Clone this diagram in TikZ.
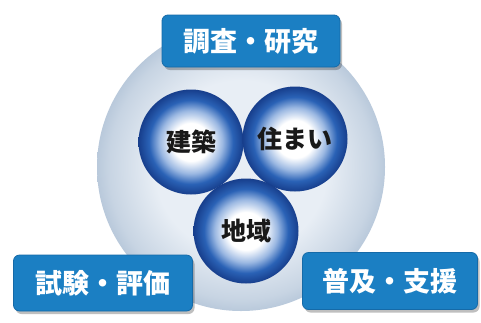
\documentclass[tikz,border=0pt]{standalone}
\usepackage{fontspec}
\newfontfamily\cjk{Noto Sans CJK JP}
\usetikzlibrary{shadows}
\definecolor{boxblue}{HTML}{1B7FC3}
\definecolor{boxedge}{HTML}{156AA8}
\definecolor{sph0}{HTML}{173E8C}
\definecolor{sph1}{HTML}{2A62B6}
\definecolor{sph2}{HTML}{9BB8E2}
\definecolor{hubin}{HTML}{E8EEF5}
\definecolor{hubout}{HTML}{B9C9DB}
\pgfdeclareradialshading{spherefill}{\pgfpoint{0bp}{0bp}}{color(0bp)=(white); color(9bp)=(white); color(15bp)=(sph2); color(20bp)=(sph1); color(25bp)=(sph0); color(50bp)=(sph0)}
\pgfdeclareradialshading{hubfill}{\pgfpoint{0bp}{0bp}}{color(0bp)=(hubin); color(15bp)=(hubin); color(23bp)=(hubout!70!hubin); color(25bp)=(hubout); color(50bp)=(hubout)}
\tikzset{
  hubdisc/.style={circle, minimum size=288pt, inner sep=0pt, shading=hubfill, draw=none},
  ball/.style={circle, minimum size=105pt, inner sep=0pt, shading=spherefill, draw=none,
    font=\cjk\bfseries\fontsize{25}{25}\selectfont, text=black!90},
  tag/.style={rectangle, rounded corners=6pt, fill=boxblue, draw=boxedge, line width=0.8pt,
    inner sep=0pt, text=white, font=\cjk\bfseries\fontsize{27}{27}\selectfont,
    drop shadow={shadow xshift=2pt, shadow yshift=-3pt, fill=black, opacity=0.25}}
}
\begin{document}
\begin{tikzpicture}[x=1pt,y=-1pt]
\useasboundingbox[fill=white] (0,0) rectangle (481,322);
\node[hubdisc] (hub) at (241,167) {};
\node[ball] (arch) at (191,142) {建築};
\node[ball] (home) at (295,139) {住まい};
\node[ball] (area) at (246,231) {地域};
\node[tag, minimum width=178pt, minimum height=52pt] (research) at (251,41) {調査・研究};
\node[tag, minimum width=179pt, minimum height=56pt] (test) at (103,283) {試験・評価};
\node[tag, minimum width=175pt, minimum height=57pt] (spread) at (390,281) {普及・支援};
\end{tikzpicture}
\end{document}
